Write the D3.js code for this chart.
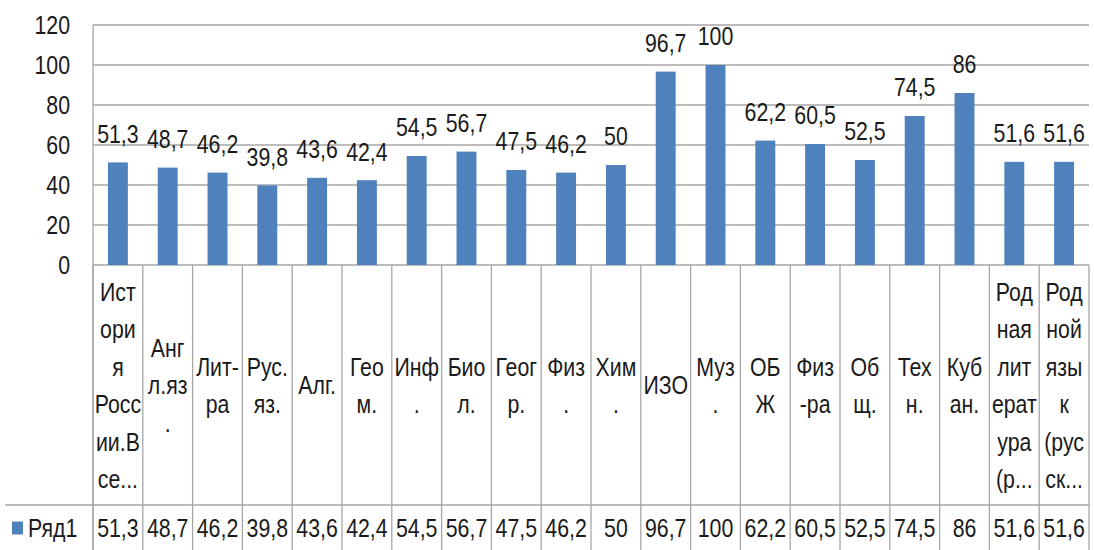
<!DOCTYPE html>
<html>
<head>
<meta charset="utf-8">
<script src="https://cdn.jsdelivr.net/npm/d3@7"></script>
<style>
  html, body { margin: 0; padding: 0; background: #fff; }
  svg { display: block; }
  text { font-family: "Liberation Sans", Arial, sans-serif; fill: #1a1a1a; }
</style>
</head>
<body>
<svg id="chart" width="1094" height="550"></svg>
<script>
// ---- data ----
const categoryLines = [
  ["Ист", "ори", "я", "Росс", "ии.В", "се..."],
  ["Анг", "л.яз", "."],
  ["Лит-", "ра"],
  ["Рус.", "яз."],
  ["Алг."],
  ["Гео", "м."],
  ["Инф", "."],
  ["Био", "л."],
  ["Геог", "р."],
  ["Физ", "."],
  ["Хим", "."],
  ["ИЗО"],
  ["Муз", "."],
  ["ОБ", "Ж"],
  ["Физ", "-ра"],
  ["Об", "щ."],
  ["Тех", "н."],
  ["Куб", "ан."],
  ["Род", "ная", "лит", "ерат", "ура", "(р..."],
  ["Род", "ной", "язы", "к", "(рус", "ск..."]
];
const categories = categoryLines.map(l => l.join(""));
const values = [51.3, 48.7, 46.2, 39.8, 43.6, 42.4, 54.5, 56.7, 47.5, 46.2, 50, 96.7, 100, 62.2, 60.5, 52.5, 74.5, 86, 51.6, 51.6];
const seriesName = "Ряд1";
const yTicks = [0, 20, 40, 60, 80, 100, 120];

const fmt = v => String(v).replace(".", ",");

// ---- layout ----
const svg = d3.select("#chart");
const plotL = 93, plotR = 1089, plotT = 25, plotB = 265;
const tableB = 505, bottom = 550;
const gridColor = "#a6a6a6";
const barColor = "#4f81bd";
const fontSize = 26;
const sx = 0.82; // horizontal condensing to mimic narrow font

const x = d3.scaleBand().domain(categories).range([plotL, plotR]).padding(0);
const y = d3.scaleLinear().domain([0, 120]).range([plotB, plotT]);
const barW = x.bandwidth() * 0.4;

// condensed text helper
function addText(parent, px, py, str, anchor) {
  return parent.append("text")
    .attr("transform", `translate(${px},${py}) scale(${sx},1)`)
    .attr("dy", "0.36em")
    .attr("text-anchor", anchor || "middle")
    .attr("font-size", fontSize)
    .text(str);
}

// gridlines
svg.append("g").selectAll("line").data(yTicks).join("line")
  .attr("x1", plotL).attr("x2", plotR)
  .attr("y1", d => y(d)).attr("y2", d => y(d))
  .attr("stroke", gridColor).attr("stroke-width", 1.3);

// left plot border
svg.append("line").attr("x1", plotL).attr("x2", plotL).attr("y1", plotT).attr("y2", bottom)
  .attr("stroke", gridColor).attr("stroke-width", 1.3);

// y tick labels
const yg = svg.append("g");
yTicks.forEach(t => addText(yg, 70, y(t), t, "end"));

// bars
svg.append("g").selectAll("rect").data(values).join("rect")
  .attr("x", (d, i) => x(categories[i]) + (x.bandwidth() - barW) / 2)
  .attr("width", barW)
  .attr("y", d => y(d))
  .attr("height", d => plotB - y(d))
  .attr("fill", barColor);

// value labels
const vg = svg.append("g");
values.forEach((v, i) => addText(vg, x(categories[i]) + x.bandwidth() / 2, y(v) - 29, fmt(v)));

// table: vertical separators
const bounds = categories.map(c => x(c)).concat([plotR]);
svg.append("g").selectAll("line").data(bounds).join("line")
  .attr("x1", d => d).attr("x2", d => d)
  .attr("y1", plotB).attr("y2", bottom)
  .attr("stroke", gridColor).attr("stroke-width", 1.3);

// table horizontal line between category row and data row
svg.append("line").attr("x1", 5).attr("x2", plotR).attr("y1", tableB).attr("y2", tableB)
  .attr("stroke", gridColor).attr("stroke-width", 1.3);

// category labels (wrapped, vertically centred)
const lineH = 37.5;
const catMid = (plotB + tableB) / 2;
const catG = svg.append("g");
categoryLines.forEach((lines, i) => {
  const cx = x(categories[i]) + x.bandwidth() / 2;
  const startY = catMid - (lines.length - 1) * lineH / 2;
  lines.forEach((ln, j) => addText(catG, cx, startY + j * lineH, ln));
});

// data row
const rowMid = (tableB + bottom) / 2;
const dg = svg.append("g");
values.forEach((v, i) => addText(dg, x(categories[i]) + x.bandwidth() / 2, rowMid, fmt(v)));

// legend key
svg.append("rect").attr("x", 12).attr("y", rowMid - 6).attr("width", 11).attr("height", 13).attr("fill", barColor);
addText(svg, 28, rowMid, seriesName, "start");
</script>
</body>
</html>
